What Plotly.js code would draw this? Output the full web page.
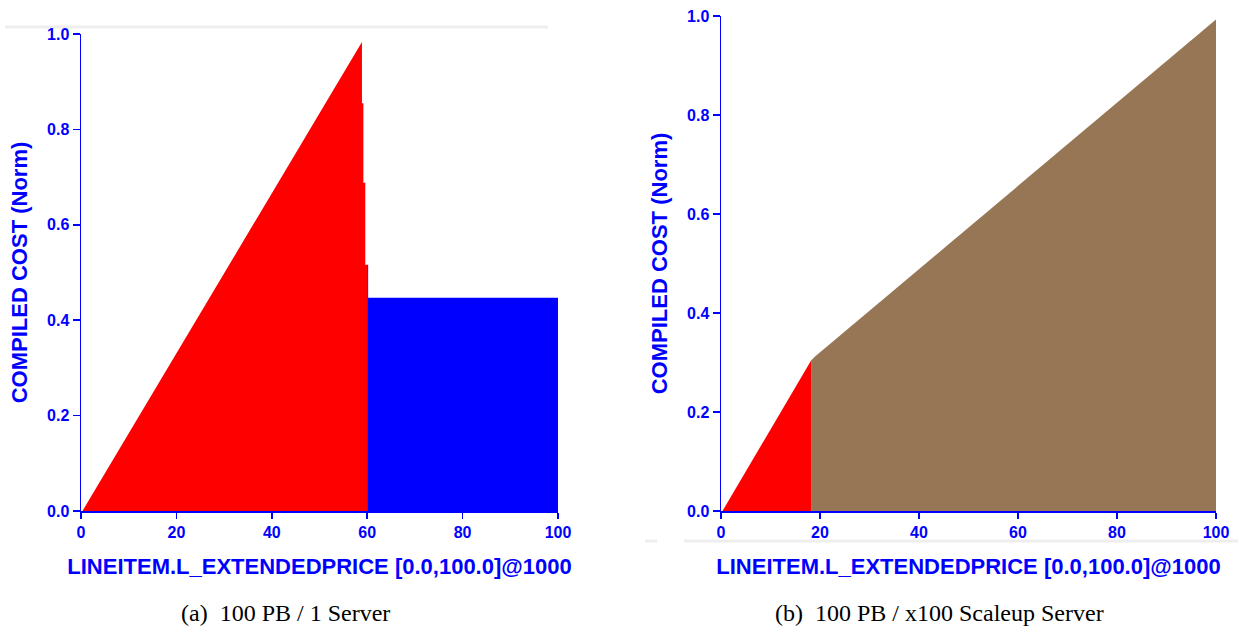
<!DOCTYPE html>
<html>
<head>
<meta charset="utf-8">
<script src="https://cdn.plot.ly/plotly-3.0.1.min.js"></script>
<style>
  html, body { margin: 0; padding: 0; background: #ffffff; }
  #chart { width: 1238px; height: 630px; }
</style>
</head>
<body>
<div id="chart"></div>
<script>
// ---------- data ----------
// (a) 100 PB / 1 Server
var leftRedX  = [0.3, 58.9, 58.9, 59.2, 59.2, 59.6, 59.6, 60.0, 60.0];
var leftRedY  = [0.0, 0.983, 0.855, 0.855, 0.688, 0.688, 0.516, 0.516, 0.0];
var leftBlueX = [60.0, 60.0, 60.2, 60.2, 100, 100];
var leftBlueY = [0.0, 0.516, 0.516, 0.447, 0.447, 0.0];

// (b) 100 PB / x100 Scaleup Server
var rightRedX   = [0.3, 18.2, 18.2];
var rightRedY   = [0.0, 0.304, 0.0];
var rightBrownX = [18.2, 18.2, 19.0, 100, 100];
var rightBrownY = [0.0, 0.304, 0.312, 0.993, 0.0];

var xTickVals = [0, 20, 40, 60, 80, 100];
var xTickText = ["0", "20", "40", "60", "80", "100"];
var yTickVals = [0, 0.2, 0.4, 0.6, 0.8, 1.0];
var yTickText = ["0.0", "0.2", "0.4", "0.6", "0.8", "1.0"];

var xTitle = "LINEITEM.L_EXTENDEDPRICE [0.0,100.0]@1000";
var yTitle = "COMPILED COST (Norm)";
var captionA = "(a)  100 PB / 1 Server";
var captionB = "(b)  100 PB / x100 Scaleup Server";

// ---------- styles ----------
var BLUE = "#0000FF";
var RED = "#FF0000";
var BROWN = "#967654";
function tickFont() { return {family: "Liberation Sans, Arial, sans-serif", size: 16, color: BLUE, weight: 700}; }
function titleFont() { return {family: "Liberation Sans, Arial, sans-serif", size: 22, color: BLUE, weight: 700}; }
function capFont() { return {family: "Liberation Serif, Times New Roman, serif", size: 24, color: "#000000"}; }
function bold(arr) { return arr.map(function (s) { return "<b>" + s + "</b>"; }); }

function polyTrace(x, y, color, xa, ya) {
  return {
    type: "scatter", mode: "lines", x: x, y: y,
    fill: "toself", fillcolor: color,
    line: {width: 0, color: color},
    xaxis: xa, yaxis: ya, hoverinfo: "skip", showlegend: false
  };
}

var traces = [
  polyTrace(leftRedX, leftRedY, RED, "x", "y"),
  polyTrace(leftBlueX, leftBlueY, BLUE, "x", "y"),
  polyTrace(rightRedX, rightRedY, RED, "x2", "y2"),
  polyTrace(rightBrownX, rightBrownY, BROWN, "x2", "y2")
];

function xAxis(domain, anchor) {
  return {
    domain: domain, anchor: anchor, range: [0, 100],
    showgrid: false, zeroline: false,
    showline: true, linecolor: BLUE, linewidth: 1.5,
    ticks: "outside", ticklen: 6, tickwidth: 1.5, tickcolor: BLUE,
    tickmode: "array", tickvals: xTickVals, ticktext: bold(xTickText),
    tickfont: tickFont(),
    title: {text: "<b>" + xTitle + "</b>", font: titleFont(), standoff: 19}
  };
}
function yAxis(domain, anchor) {
  return {
    domain: domain, anchor: anchor, range: [0, 1],
    showgrid: false, zeroline: false,
    showline: true, linecolor: BLUE, linewidth: 1.5,
    ticks: "outside", ticklen: 7, tickwidth: 1.5, tickcolor: BLUE,
    tickmode: "array", tickvals: yTickVals, ticktext: bold(yTickText),
    tickfont: tickFont(),
    title: {text: "<b>" + yTitle + "</b>", font: titleFont(), standoff: 13}
  };
}

var W = 1238, H = 630;
function px(v) { return v / W; }
function py(v) { return 1 - v / H; }

var layout = {
  width: W, height: H,
  margin: {l: 0, r: 0, t: 0, b: 0},
  paper_bgcolor: "#ffffff", plot_bgcolor: "#ffffff",
  showlegend: false,
  xaxis: xAxis([px(81), px(558)], "y"),
  yaxis: yAxis([py(511), py(34)], "x"),
  xaxis2: xAxis([px(721), px(1216)], "y2"),
  yaxis2: yAxis([py(511), py(16)], "x2"),
  shapes: [
    {type: "line", xref: "paper", yref: "paper", x0: px(5), x1: px(548), y0: py(27), y1: py(27),
     line: {color: "#eeeeee", width: 3}, layer: "below"},
    {type: "line", xref: "paper", yref: "paper", x0: px(645), x1: px(657), y0: py(541), y1: py(541),
     line: {color: "#eeeeee", width: 3}, layer: "below"},
    {type: "line", xref: "paper", yref: "paper", x0: px(684), x1: px(1238), y0: py(541), y1: py(541),
     line: {color: "#eeeeee", width: 3}, layer: "below"}
  ],
  annotations: [
    {text: captionA, xref: "paper", yref: "paper", x: px(285), y: py(613),
     xanchor: "center", yanchor: "middle", showarrow: false, font: capFont()},
    {text: captionB, xref: "paper", yref: "paper", x: px(939), y: py(613),
     xanchor: "center", yanchor: "middle", showarrow: false, font: capFont()}
  ]
};

Plotly.newPlot("chart", traces, layout, {displayModeBar: false, staticPlot: true});
</script>
</body>
</html>
